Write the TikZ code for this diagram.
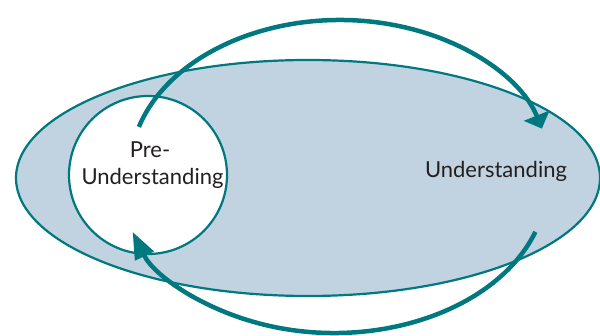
\documentclass[tikz,border=0pt]{standalone}
\usepackage{fontspec}
\setmainfont{Lato}
\usetikzlibrary{shapes.geometric,arrows.meta,calc}
\definecolor{teal}{HTML}{00787F}
\definecolor{lightfill}{HTML}{C1D2E0}
\definecolor{txt}{HTML}{231F20}
\tikzset{
  bigellipse/.style={ellipse,draw=teal,line width=2.2pt,fill=lightfill,inner sep=0pt,minimum width=584pt,minimum height=236pt},
  precircle/.style={circle,draw=teal,line width=2.2pt,fill=white,inner sep=0pt,minimum size=158pt},
  lbl/.style={font=\fontsize{22}{26}\selectfont,text=txt,inner sep=0pt,anchor=base},
  cyclearrow/.style={draw=teal,line width=4.5pt}
}
\begin{document}
\begin{tikzpicture}[x=1pt,y=1pt]
\useasboundingbox (0,0) rectangle (600,335);
\node[bigellipse] (und) at (308,157) {};
\node[precircle] (pre) at (148,160) {};
\node[lbl] (pretxt1) at (150,177) {Pre-};
\node[lbl] (pretxt2) at (152.5,150) {Understanding};
\node[lbl] (undtxt) at (496,157) {Understanding};
% top arc: from pre-understanding to understanding
\coordinate (topc) at (340,165);
\coordinate (tops) at ($(topc)+(163.3:210pt and 150pt)$);
\draw[cyclearrow,-{Triangle[length=14pt,width=27pt]}] (tops) arc[start angle=163.3,end angle=16,x radius=210pt,y radius=150pt];
% bottom arc: from understanding back to pre-understanding
\coordinate (botc) at (334,152);
\coordinate (bots) at ($(botc)+(-19:213pt and 150pt)$);
\draw[cyclearrow,-{Triangle[length=27pt,width=20pt]}] (bots) arc[start angle=-19,end angle=-161,x radius=213pt,y radius=150pt];
\end{tikzpicture}
\end{document}
